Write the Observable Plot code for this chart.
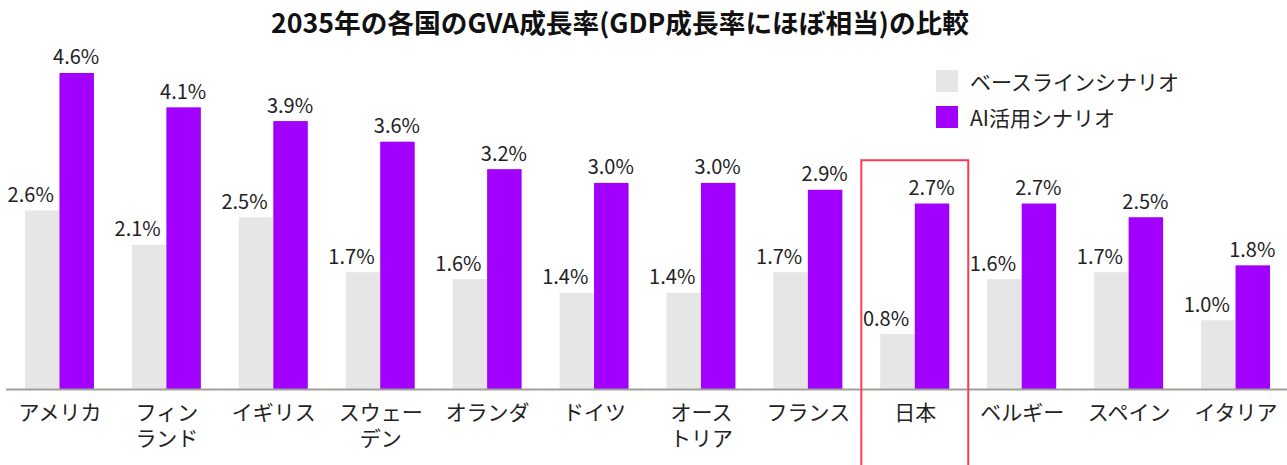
<!DOCTYPE html>
<html><head><meta charset="utf-8">
<script src="https://cdn.jsdelivr.net/npm/d3@7"></script>
<script src="https://cdn.jsdelivr.net/npm/@observablehq/plot@0.6"></script>
<style>
body{margin:0;background:#fff;font-family:"Noto Sans CJK JP",sans-serif;}
#wrap{position:relative;width:1287px;height:465px;overflow:hidden;background:#fff}
#title{position:absolute;left:0;width:1240px;top:5px;text-align:center;font-weight:700;font-size:26.7px;line-height:33px;color:#111;white-space:nowrap}
#legend{position:absolute;left:936px;top:63px;font-size:21px;color:#222}
.li{display:flex;align-items:center;height:36px}
.sw{width:22px;height:22px;margin-right:12px}
#chart{position:absolute;left:0;top:0}
</style></head>
<body>
<div id="wrap">
<div id="chart"></div>
<div id="title">2035年の各国のGVA成長率(GDP成長率にほぼ相当)の比較</div>
<div id="legend"></div>
</div>
<script>
const countries = ["アメリカ","フィンランド","イギリス","スウェーデン","オランダ","ドイツ","オーストリア","フランス","日本","ベルギー","スペイン","イタリア"];
const tickLabels = ["アメリカ","フィン\nランド","イギリス","スウェー\nデン","オランダ","ドイツ","オース\nトリア","フランス","日本","ベルギー","スペイン","イタリア"];
const series = ["ベースラインシナリオ","AI活用シナリオ"];
const baseline = [2.6,2.1,2.5,1.7,1.6,1.4,1.4,1.7,0.8,1.6,1.7,1.0];
const aiScenario = [4.6,4.1,3.9,3.6,3.2,3.0,3.0,2.9,2.7,2.7,2.5,1.8];
const colors = ["#e6e6e6","#a100ff"];
const highlight = [{country:"日本", y1:-1.2, y2:3.33}];

const rows = [];
countries.forEach((c,i)=>{
  rows.push({country:c, series:series[0], value:baseline[i]});
  rows.push({country:c, series:series[1], value:aiScenario[i]});
});
const labelOf = new Map(countries.map((c,i)=>[c,tickLabels[i]]));
const fmt = v => d3.format(".1f")(v) + "%";

const chart = Plot.plot({
  width:1287, height:465,
  marginTop:45.5, marginBottom:76, marginLeft:6, marginRight:-2,
  style:{fontFamily:'"Noto Sans CJK JP", sans-serif', fontSize:"20px", color:"#222", background:"transparent"},
  fx:{domain:countries, padding:0, round:false, label:null},
  x:{domain:series, paddingInner:0, paddingOuter:0.55, round:false, axis:null},
  y:{domain:[0,5], axis:null},
  color:{domain:series, range:colors},
  marks:[
    Plot.barY(rows, {fx:"country", x:"series", y:"value", fill:"series"}),
    Plot.ruleY([0], {stroke:"#a09f99", strokeWidth:2}),
    Plot.text(rows.filter(d=>d.series===series[0]), {fx:"country", x:"series", y:"value", text:d=>fmt(d.value), lineAnchor:"bottom", dy:-9, dx:-12, fontSize:20, fill:"#222"}),
    Plot.text(rows.filter(d=>d.series===series[1]), {fx:"country", x:"series", y:"value", text:d=>fmt(d.value), lineAnchor:"bottom", dy:-9, dx:-1, fontSize:20, fill:"#222"}),
    Plot.axisFx({anchor:"bottom", tickSize:0, tickPadding:12, tickFormat:d=>labelOf.get(d), fontSize:21, lineHeight:1.24, fill:"#222", label:null}),
    Plot.rect(highlight, {fx:"country", y1:"y1", y2:"y2", fill:"none", stroke:"#ff3b50", strokeWidth:2})
  ]
});
document.getElementById("chart").appendChild(chart);

const legend = document.getElementById("legend");
series.forEach((s,i)=>{
  const row = document.createElement("div"); row.className="li";
  const sw = document.createElement("div"); sw.className="sw"; sw.style.background=colors[i];
  const t = document.createElement("span"); t.textContent=s;
  row.appendChild(sw); row.appendChild(t); legend.appendChild(row);
});
</script>
</body></html>
